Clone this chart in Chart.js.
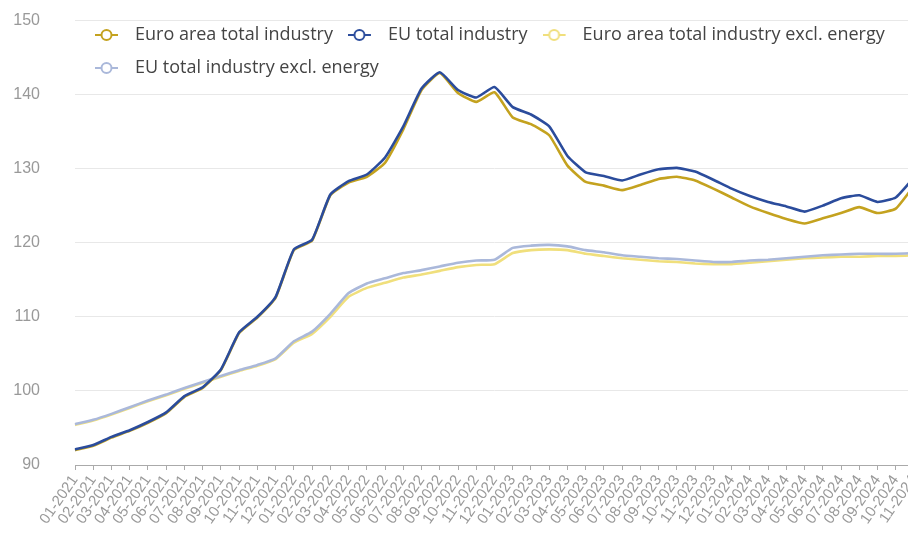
<!DOCTYPE html>
<html><head><meta charset="utf-8">
<script src="https://cdn.jsdelivr.net/npm/chart.js@4.4.1/dist/chart.umd.min.js"></script>
<style>
html,body{margin:0;padding:0;background:#fff;overflow:hidden;width:908px;height:536px}
#wrap{width:918px;height:536px;position:relative}
</style></head>
<body><div id="wrap"><canvas id="c" width="918" height="536"></canvas></div>
<script>
const months = ["01-2021","02-2021","03-2021","04-2021","05-2021","06-2021","07-2021","08-2021","09-2021","10-2021","11-2021","12-2021",
"01-2022","02-2022","03-2022","04-2022","05-2022","06-2022","07-2022","08-2022","09-2022","10-2022","11-2022","12-2022",
"01-2023","02-2023","03-2023","04-2023","05-2023","06-2023","07-2023","08-2023","09-2023","10-2023","11-2023","12-2023",
"01-2024","02-2024","03-2024","04-2024","05-2024","06-2024","07-2024","08-2024","09-2024","10-2024","11-2024"];

const euroAreaTotal = [92.0,92.6,93.7,94.6,95.7,97.0,99.2,100.4,102.8,107.8,109.9,112.6,
119.0,120.3,126.4,128.1,128.9,130.8,135.3,140.6,142.9,140.2,139.0,140.3,
136.9,136.0,134.5,130.4,128.2,127.7,127.1,127.8,128.6,128.9,128.4,127.3,
126.1,124.9,124.0,123.2,122.6,123.3,124.0,124.8,124.0,124.6,127.7];

const euTotal = [92.1,92.7,93.8,94.7,95.8,97.1,99.3,100.5,102.9,107.9,110.0,112.7,
119.1,120.4,126.5,128.3,129.2,131.5,135.7,140.8,143.0,140.6,139.6,141.0,
138.3,137.3,135.7,131.7,129.5,129.0,128.4,129.2,129.9,130.1,129.6,128.5,
127.3,126.3,125.5,124.9,124.2,125.0,126.0,126.4,125.5,126.1,128.8];

const euroAreaExclEnergy = [95.4,96.0,96.8,97.7,98.6,99.4,100.3,101.1,101.9,102.7,103.4,104.3,
106.5,107.7,110.0,112.7,113.9,114.6,115.3,115.7,116.2,116.7,117.0,117.1,
118.6,119.0,119.1,119.0,118.5,118.2,117.9,117.7,117.5,117.4,117.2,117.1,
117.1,117.3,117.5,117.7,117.9,118.0,118.1,118.1,118.2,118.2,118.3];

const euExclEnergy = [95.5,96.1,96.9,97.8,98.7,99.5,100.4,101.2,102.0,102.8,103.5,104.4,
106.7,108.0,110.4,113.2,114.5,115.2,115.9,116.3,116.8,117.3,117.6,117.7,
119.3,119.6,119.7,119.5,119.0,118.7,118.3,118.1,117.9,117.8,117.6,117.4,
117.4,117.6,117.7,117.9,118.1,118.3,118.4,118.5,118.5,118.5,118.6];

const seriesNames = ["Euro area total industry","EU total industry","Euro area total industry excl. energy","EU total industry excl. energy"];
const yTicks = [90,100,110,120,130,140,150];

const colors = ['#c4a21f','#2b4c9c','#f0df7c','#aab8da'];

function legendSymbol(color){
  const c = document.createElement('canvas');
  c.width = 31; c.height = 14;
  const g = c.getContext('2d');
  g.strokeStyle = color; g.lineWidth = 2;
  g.beginPath(); g.moveTo(0,7); g.lineTo(23,7); g.stroke();
  g.beginPath(); g.arc(11.5,7,5,0,Math.PI*2); g.fillStyle='#fff'; g.fill(); g.stroke();
  return c;
}
const symbols = colors.map(legendSymbol);

const legendOverlay = {
  id: 'legendOverlay',
  beforeInit(chart){
    const lg = chart.legend;
    const orig = lg.fit;
    lg.fit = function(){ orig.call(this); this.height = 0; };
  },
  afterLayout(chart){
    const lg = chart.legend;
    lg.left = 80; lg.right = 918; lg.width = 838;
    lg.top = 11; lg.bottom = 110; lg.height = 99;
  }
};

function ds(label, data, color, order){
  return {label, data, borderColor: color, backgroundColor: color, borderWidth: 2.6,
    pointRadius: 0, pointHoverRadius: 0, tension: 0.15, fill: false, order};
}

new Chart(document.getElementById('c'), {
  type: 'line',
  data: {
    labels: months,
    datasets: [
      ds(seriesNames[0], euroAreaTotal, colors[0], 1),
      ds(seriesNames[1], euTotal, colors[1], 0),
      ds(seriesNames[2], euroAreaExclEnergy, colors[2], 3),
      ds(seriesNames[3], euExclEnergy, colors[3], 2)
    ]
  },
  options: {
    responsive: false,
    animation: false,
    layout: {padding: {left: 13, right: 4, top: 20.4, bottom: 0}},
    plugins: {
      tooltip: {enabled: false},
      legend: {
        position: 'top', align: 'start',
        labels: {
          usePointStyle: true, pointStyleWidth: 31, padding: 15,
          color: '#444', font: {family: 'Open Sans', size: 18},
          sort: (a, b) => a.datasetIndex - b.datasetIndex,
          generateLabels(chart){
            const items = Chart.defaults.plugins.legend.labels.generateLabels(chart);
            items.forEach(it => { it.pointStyle = symbols[it.datasetIndex]; });
            return items;
          }
        }
      }
    },
    scales: {
      x: {
        grid: {drawOnChartArea: false, drawTicks: true, tickLength: 5, color: '#aaa'},
        border: {color: '#aaa', width: 1},
        ticks: {autoSkip: false, maxRotation: 55, minRotation: 55, color: '#999',
          font: {family: 'Liberation Sans', size: 15}, padding: 2},
        afterFit(s){ s.height = 71; s.paddingRight = 0; s.paddingLeft = 0; }
      },
      y: {
        min: 90, max: 150,
        grid: {color: '#e8e8e8', drawTicks: false},
        border: {display: false},
        afterBuildTicks(s){ s.ticks = yTicks.map(v => ({value: v})); },
        ticks: {color: '#999', font: {family: 'Liberation Sans', size: 16}, padding: 35},
        afterFit(s){ s.width = 62; s.paddingTop = 0; s.paddingBottom = 0; }
      }
    }
  },
  plugins: [legendOverlay]
});
</script>
</body></html>
